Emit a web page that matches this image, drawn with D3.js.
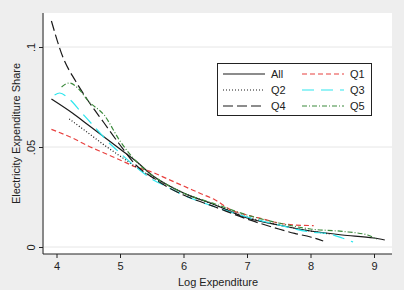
<!DOCTYPE html>
<html>
<head>
<meta charset="utf-8">
<script src="https://cdn.jsdelivr.net/npm/d3@7"></script>
<style>
  body { margin: 0; background: #eeeeee; }
  svg { display: block; font-family: "Liberation Sans", Arial, sans-serif; }
</style>
</head>
<body>
<div id="chart"></div>
<script>
// Chart data (lowess-style curves)
const xTicks = [4, 5, 6, 7, 8, 9];
const yTicks = [0, 0.05, 0.1];
const yTickLabels = ["0", ".05", ".1"];

const allX = [3.92, 4.25, 4.5, 4.75, 5.0, 5.25, 5.5, 5.75, 6.0, 6.5, 7.0, 7.5, 8.0, 8.5, 9.0, 9.17];
const allY = [0.074, 0.067, 0.061, 0.055, 0.049, 0.043, 0.036, 0.031, 0.027, 0.021, 0.0145, 0.011, 0.008, 0.006, 0.0045, 0.0035];

const q1X = [3.92, 4.25, 4.5, 4.75, 5.0, 5.25, 5.5, 5.75, 6.0, 6.25, 6.5, 6.75, 7.0, 7.25, 7.5, 7.75, 8.05];
const q1Y = [0.0588, 0.0545, 0.0505, 0.047, 0.0435, 0.040, 0.0375, 0.034, 0.0305, 0.027, 0.0235, 0.0185, 0.016, 0.014, 0.012, 0.011, 0.0107];

const q2X = [4.2, 4.5, 4.75, 5.0, 5.25, 5.5, 5.75, 6.0, 6.5, 7.0, 7.5, 8.0, 8.3];
const q2Y = [0.064, 0.057, 0.051, 0.0455, 0.040, 0.035, 0.031, 0.027, 0.021, 0.015, 0.011, 0.008, 0.0065];

const q3X = [3.97, 4.05, 4.2, 4.4, 4.6, 4.8, 5.0, 5.25, 5.5, 5.75, 6.0, 6.5, 7.0, 7.5, 8.0, 8.3, 8.5, 8.67];
const q3Y = [0.076, 0.077, 0.074, 0.067, 0.060, 0.053, 0.047, 0.040, 0.034, 0.030, 0.026, 0.020, 0.015, 0.011, 0.0075, 0.0065, 0.0045, 0.0025];

const q4X = [3.92, 4.1, 4.3, 4.5, 4.75, 5.0, 5.25, 5.5, 5.75, 6.0, 6.5, 7.0, 7.5, 7.75, 8.0, 8.2];
const q4Y = [0.113, 0.095, 0.083, 0.073, 0.062, 0.051, 0.041, 0.035, 0.030, 0.026, 0.020, 0.014, 0.009, 0.0068, 0.005, 0.003];

const q5X = [4.08, 4.2, 4.35, 4.5, 4.75, 5.0, 5.25, 5.5, 5.75, 6.0, 6.5, 7.0, 7.5, 8.0, 8.5, 8.9, 9.04];
const q5Y = [0.080, 0.082, 0.079, 0.073, 0.066, 0.053, 0.043, 0.036, 0.031, 0.027, 0.0215, 0.016, 0.012, 0.009, 0.0078, 0.006, 0.0038];

// Series definitions (legend order: All, Q1, Q2, Q3, Q4, Q5)
const series = [
    { name: "All", xs: allX, ys: allY, color: "#1a1a1a", dash: null },
    { name: "Q1", xs: q1X, ys: q1Y, color: "#e8413f", dash: "5,3" },
    { name: "Q2", xs: q2X, ys: q2Y, color: "#1a1a1a", dash: "1,2" },
    { name: "Q3", xs: q3X, ys: q3Y, color: "#2ee6ee", dash: "12,7" },
    { name: "Q4", xs: q4X, ys: q4Y, color: "#1a1a1a", dash: "10,4" },
    { name: "Q5", xs: q5X, ys: q5Y, color: "#3c8a3c", dash: "5,2,1,2" }
];

const width = 404;
const height = 290;
const plot = { left: 44, right: 392, top: 13, bottom: 254 };

const svg = d3.select("#chart")
    .append("svg")
    .attr("width", width)
    .attr("height", height);

// Background and plot region
svg.append("rect").attr("width", width).attr("height", height).attr("fill", "#eeeeee");
svg.append("rect")
    .attr("x", plot.left).attr("y", plot.top)
    .attr("width", plot.right - plot.left).attr("height", plot.bottom - plot.top)
    .attr("fill", "#ffffff");

// Scales
const x = d3.scaleLinear().domain([4, 9]).range([56.5, 374]);
const y = d3.scaleLinear().domain([0, 0.1]).range([247, 47]);

// Gridlines
svg.append("g")
    .selectAll("line")
    .data(yTicks)
    .enter()
    .append("line")
    .attr("x1", plot.left).attr("x2", plot.right)
    .attr("y1", d => y(d)).attr("y2", d => y(d))
    .attr("stroke", "#e6e6e6")
    .attr("stroke-width", 1);

// Axes
const xAxis = svg.append("g")
    .attr("transform", `translate(0,${plot.bottom})`)
    .call(d3.axisBottom(x).tickValues(xTicks).tickSize(4).tickPadding(4).tickFormat(d3.format("d")));
xAxis.select(".domain").attr("d", `M${plot.left - 1},0H${plot.right}`).attr("stroke", "#222");
xAxis.selectAll(".tick line").attr("stroke", "#222");
xAxis.selectAll("text").attr("font-size", 11).attr("fill", "#222")
    .attr("font-family", "'Liberation Sans', Arial, sans-serif");

const yAxis = svg.append("g")
    .attr("transform", `translate(${plot.left - 1},0)`)
    .call(d3.axisLeft(y).tickValues(yTicks).tickSize(4).tickFormat((d, i) => yTickLabels[i]));
yAxis.select(".domain").attr("d", `M0,${plot.top}V${plot.bottom}`).attr("stroke", "#222");
yAxis.selectAll(".tick line").attr("stroke", "#222");
yAxis.selectAll("text")
    .attr("font-size", 11).attr("fill", "#222")
    .attr("font-family", "'Liberation Sans', Arial, sans-serif")
    .attr("x", null).attr("dy", null)
    .attr("text-anchor", "middle")
    .attr("transform", "translate(-12,0) rotate(-90)")
    .attr("dy", "0.32em");

// Axis titles
svg.append("text")
    .attr("x", (plot.left + plot.right) / 2)
    .attr("y", 286)
    .attr("text-anchor", "middle")
    .attr("font-size", 11)
    .attr("fill", "#222")
    .text("Log Expenditure");

svg.append("text")
    .attr("transform", `translate(20,${(plot.top + plot.bottom) / 2}) rotate(-90)`)
    .attr("text-anchor", "middle")
    .attr("font-size", 11)
    .attr("fill", "#222")
    .text("Electricity Expenditure Share");

// Lines
const line = d3.line()
    .x(d => x(d[0]))
    .y(d => y(d[1]))
    .curve(d3.curveMonotoneX);

svg.append("g")
    .selectAll("path")
    .data(series)
    .enter()
    .append("path")
    .attr("d", s => line(s.xs.map((v, i) => [v, s.ys[i]])))
    .attr("fill", "none")
    .attr("stroke", s => s.color)
    .attr("stroke-width", 1.2)
    .attr("stroke-dasharray", s => s.dash);

// Legend
const legend = svg.append("g");
legend.append("rect")
    .attr("x", 217.5).attr("y", 63.5)
    .attr("width", 154).attr("height", 52)
    .attr("fill", "#ffffff")
    .attr("stroke", "#222")
    .attr("stroke-width", 1);

const items = legend.selectAll("g.item")
    .data(series)
    .enter()
    .append("g")
    .attr("class", "item")
    .attr("transform", (d, i) => `translate(${i % 2 === 0 ? 223 : 302},${74 + Math.floor(i / 2) * 16})`);

items.append("line")
    .attr("x1", 0).attr("x2", 42)
    .attr("y1", 0).attr("y2", 0)
    .attr("stroke", d => d.color)
    .attr("stroke-width", 1.2)
    .attr("stroke-dasharray", d => d.dash);

items.append("text")
    .attr("x", 48)
    .attr("dy", "0.35em")
    .attr("font-size", 11)
    .attr("fill", "#222")
    .text(d => d.name);
</script>
</body>
</html>
